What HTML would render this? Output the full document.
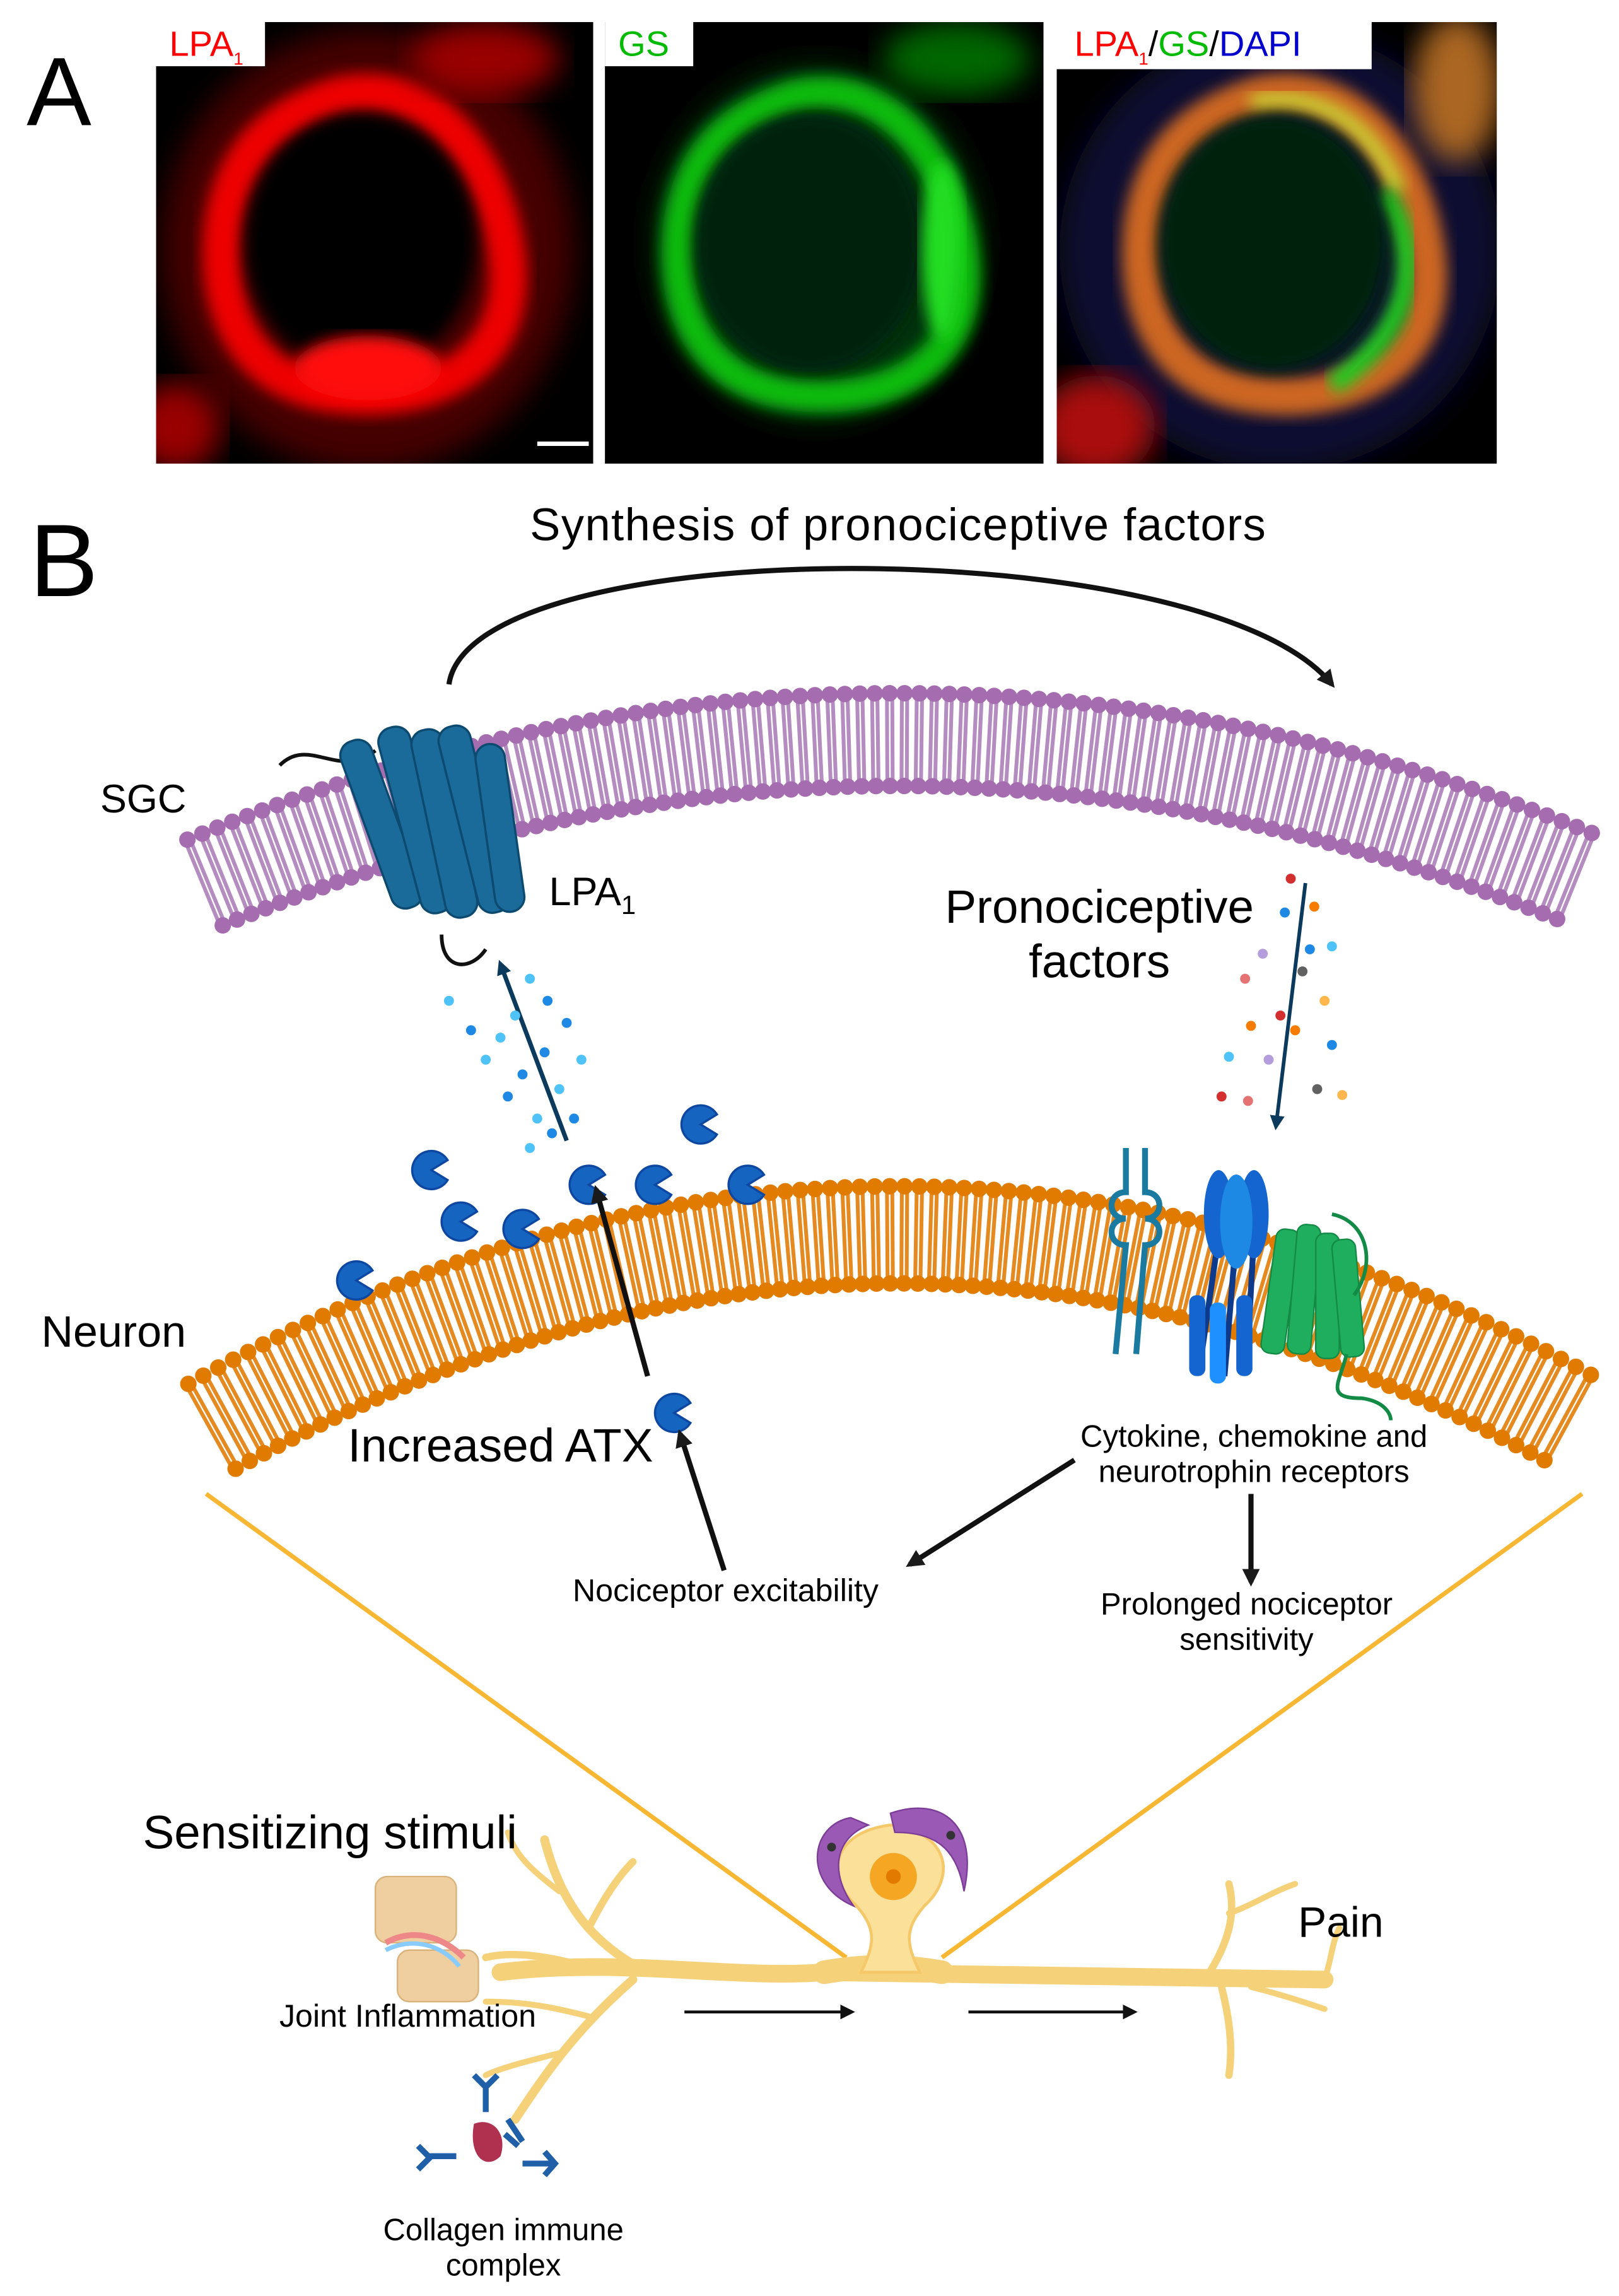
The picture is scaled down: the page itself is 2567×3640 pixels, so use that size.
<!DOCTYPE html>
<html><head><meta charset="utf-8">
<style>
html,body{margin:0;padding:0;background:#fff;}
svg{display:block;}
text{font-family:"Liberation Sans",Arial,sans-serif;}
</style></head>
<body>
<svg id="s" width="2567" height="3640" viewBox="0 0 1100 1560" xmlns="http://www.w3.org/2000/svg">
<defs>
<filter id="b4"><feGaussianBlur stdDeviation="5"/></filter>
<filter id="b8"><feGaussianBlur stdDeviation="10"/></filter>
<marker id="ah" markerWidth="10" markerHeight="10" refX="7" refY="5" orient="auto" markerUnits="userSpaceOnUse"><path d="M0,0 L10,5 L0,10 z" fill="#111"/></marker>
<marker id="ahb" markerWidth="12" markerHeight="12" refX="9" refY="6" orient="auto" markerUnits="userSpaceOnUse"><path d="M0,0 L12,6 L0,12 z" fill="#1a1a1a"/></marker>
<marker id="ahn" markerWidth="10" markerHeight="10" refX="7" refY="5" orient="auto" markerUnits="userSpaceOnUse"><path d="M0,0 L10,5 L0,10 z" fill="#0b3a5c"/></marker>
<clipPath id="c1"><rect x="106" y="15" width="297" height="300"/></clipPath>
<clipPath id="c2"><rect x="411" y="15" width="298" height="300"/></clipPath>
<clipPath id="c3"><rect x="718" y="15" width="299" height="300"/></clipPath>
</defs>
<rect width="1100" height="1560" fill="#fff"/>
<text x="18" y="85" font-size="66">A</text>
<!-- Panel 1 -->
<rect x="106" y="15" width="297" height="300" fill="#000"/>
<g clip-path="url(#c1)">
<ellipse cx="250" cy="170" rx="140" ry="150" fill="#400" filter="url(#b8)"/>
<path d="M230,65 C300,50 340,120 345,180 C350,250 290,275 230,268 C160,260 145,200 152,150 C160,100 190,78 230,65 Z" fill="none" stroke="#e00" stroke-width="26" filter="url(#b4)"/>
<ellipse cx="245" cy="165" rx="78" ry="88" fill="#000" filter="url(#b4)"/>
<ellipse cx="250" cy="250" rx="50" ry="22" fill="#f11" filter="url(#b4)"/>
<ellipse cx="330" cy="40" rx="50" ry="25" fill="#900" filter="url(#b8)"/>
<ellipse cx="120" cy="290" rx="30" ry="30" fill="#900" filter="url(#b8)"/>
</g>
<rect x="365" y="300" width="35" height="3" fill="#fff"/>
<rect x="106" y="15" width="74" height="30" fill="#fff"/>
<text x="115" y="38" font-size="24" fill="#f00">LPA<tspan font-size="12" dy="6">1</tspan></text>
<!-- Panel 2 -->
<rect x="411" y="15" width="298" height="300" fill="#000"/>
<g clip-path="url(#c2)">
<ellipse cx="555" cy="165" rx="110" ry="120" fill="#031" filter="url(#b8)"/>
<path d="M540,65 C610,50 650,120 655,180 C660,250 600,275 540,268 C470,260 455,200 462,150 C470,100 500,78 540,65 Z" fill="none" stroke="#1b1" stroke-width="22" filter="url(#b4)"/>
<ellipse cx="550" cy="165" rx="78" ry="88" fill="#021" filter="url(#b4)"/>
<ellipse cx="640" cy="170" rx="14" ry="60" fill="#2d2" filter="url(#b4)"/>
<ellipse cx="650" cy="40" rx="50" ry="25" fill="#060" filter="url(#b8)"/>
</g>
<rect x="411" y="15" width="60" height="30" fill="#fff"/>
<text x="420" y="38" font-size="24" fill="#0b0">GS</text>
<!-- Panel 3 -->
<rect x="718" y="15" width="299" height="300" fill="#000"/>
<g clip-path="url(#c3)">
<ellipse cx="870" cy="170" rx="150" ry="150" fill="#113" filter="url(#b8)"/>
<path d="M855,65 C925,50 965,120 970,180 C975,250 915,275 855,268 C785,260 770,200 777,150 C785,100 815,78 855,65 Z" fill="none" stroke="#c62" stroke-width="26" filter="url(#b4)"/>
<path d="M850,70 C900,60 935,90 950,130" fill="none" stroke="#cc3" stroke-width="12" filter="url(#b4)"/>
<path d="M940,130 C965,170 965,220 905,262" fill="none" stroke="#2c2" stroke-width="14" filter="url(#b4)"/>
<ellipse cx="865" cy="165" rx="78" ry="88" fill="#021" filter="url(#b4)"/>
<ellipse cx="745" cy="290" rx="40" ry="35" fill="#a11" filter="url(#b8)"/>
<ellipse cx="990" cy="60" rx="30" ry="50" fill="#a62" filter="url(#b8)"/>
</g>
<rect x="718" y="15" width="214" height="32" fill="#fff"/>
<text x="730" y="38" font-size="24" fill="#f00">LPA<tspan font-size="12" dy="6">1</tspan><tspan dy="-6" fill="#000">/</tspan><tspan fill="#0b0">GS</tspan><tspan fill="#000">/</tspan><tspan fill="#00c">DAPI</tspan></text>

<text x="20" y="405" font-size="70">B</text>
<text x="360" y="367" font-size="31" textLength="500">Synthesis of pronociceptive factors</text>
<path d="M305,465 C320,360 820,360 905,465" fill="none" stroke="#111" stroke-width="3.5" marker-end="url(#ahb)"/>

<g id="mem"></g>

<text x="68" y="552" font-size="27">SGC</text>
<text x="28" y="915" font-size="30">Neuron</text>

<!-- LPA1 receptor -->
<path d="M190,520 C210,500 230,530 255,510" fill="none" stroke="#111" stroke-width="2.5"/>
<path d="M300,635 C300,660 320,660 330,645" fill="none" stroke="#111" stroke-width="2.5"/>
<g fill="#1a6a9a" stroke="#0d4a70" stroke-width="1.5">
<rect x="250" y="500" width="22" height="120" rx="10" transform="rotate(-20 260 565)"/>
<rect x="272" y="492" width="22" height="130" rx="10" transform="rotate(-15 283 560)"/>
<rect x="292" y="495" width="22" height="130" rx="10" transform="rotate(-12 300 565)"/>
<rect x="312" y="492" width="22" height="130" rx="10" transform="rotate(-14 321 560)"/>
<rect x="330" y="505" width="20" height="115" rx="10" transform="rotate(-8 340 565)"/>
</g>
<text x="373" y="615" font-size="27">LPA<tspan font-size="18" dy="6">1</tspan></text>

<text x="747" y="627" font-size="32" text-anchor="middle">Pronociceptive</text>
<text x="747" y="664" font-size="32" text-anchor="middle">factors</text>

<!-- arrows -->
<line x1="385" y1="775" x2="340" y2="655" stroke="#0b3a5c" stroke-width="3" marker-end="url(#ahn)"/>
<line x1="887" y1="600" x2="867" y2="765" stroke="#0b3a5c" stroke-width="2.5" marker-end="url(#ahn)"/>
<g id="dots"></g>

<g id="pac" fill="#1565c0"></g>

<!-- neuron receptors -->
<g stroke="#1a7aa0" fill="none" stroke-width="4">
<path d="M765,780 L765,810 C752,810 752,828 765,828 C752,828 752,846 765,846 L758,920"/>
<path d="M778,780 L778,810 C791,810 791,828 778,828 C791,828 791,846 778,846 L772,920"/>
</g>
<g>
<line x1="828" y1="840" x2="815" y2="930" stroke="#0d3a8a" stroke-width="4"/>
<line x1="840" y1="840" x2="832" y2="935" stroke="#0d3a8a" stroke-width="4"/>
<line x1="852" y1="840" x2="847" y2="930" stroke="#0d3a8a" stroke-width="4"/>
<ellipse cx="828" cy="825" rx="10" ry="30" fill="#1565d0"/>
<ellipse cx="852" cy="825" rx="10" ry="30" fill="#1565d0"/>
<ellipse cx="840" cy="830" rx="11" ry="32" fill="#1e88e5"/>
<rect x="808" y="880" width="11" height="55" rx="5" fill="#1565d0"/>
<rect x="822" y="885" width="11" height="55" rx="5" fill="#1e90ff"/>
<rect x="840" y="880" width="11" height="55" rx="5" fill="#1565d0"/>
</g>
<g fill="#1fae5e" stroke="#138a45" stroke-width="1">
<rect x="862" y="835" width="16" height="85" rx="6" transform="rotate(8 870 877)"/>
<rect x="878" y="832" width="16" height="88" rx="6" transform="rotate(5 886 876)"/>
<rect x="894" y="838" width="16" height="85" rx="6"/>
<rect x="908" y="842" width="16" height="80" rx="6" transform="rotate(-5 916 882)"/>
</g>
<path d="M905,825 C930,830 935,860 920,880 M915,920 C910,940 900,950 925,950 C940,952 945,960 945,965" fill="none" stroke="#138a45" stroke-width="2.5"/>

<text x="340" y="993" font-size="32" text-anchor="middle">Increased ATX</text>
<text x="852" y="983" font-size="21" text-anchor="middle">Cytokine, chemokine and</text>
<text x="852" y="1007" font-size="21" text-anchor="middle">neurotrophin receptors</text>
<text x="493" y="1088" font-size="21.5" text-anchor="middle">Nociceptor excitability</text>
<text x="847" y="1097" font-size="21" text-anchor="middle">Prolonged nociceptor</text>
<text x="847" y="1121" font-size="21" text-anchor="middle">sensitivity</text>

<line x1="440" y1="935" x2="405" y2="808" stroke="#111" stroke-width="3.5" marker-end="url(#ahb)"/>
<line x1="492" y1="1067" x2="462" y2="974" stroke="#111" stroke-width="3.5" marker-end="url(#ahb)"/>
<line x1="730" y1="992" x2="618" y2="1063" stroke="#111" stroke-width="3.5" marker-end="url(#ahb)"/>
<line x1="850" y1="1015" x2="850" y2="1075" stroke="#111" stroke-width="3.5" marker-end="url(#ahb)"/>

<line x1="140" y1="1015" x2="575" y2="1330" stroke="#f7b733" stroke-width="3"/>
<line x1="1075" y1="1015" x2="640" y2="1330" stroke="#f7b733" stroke-width="3"/>

<!-- neuron drawing -->
<g fill="none" stroke="#f5d27a" stroke-linecap="round">
<path d="M340,1340 C420,1330 500,1345 560,1340 L900,1345" stroke-width="12"/>
<path d="M560,1340 C590,1335 610,1335 640,1340" stroke-width="16"/>
<path d="M440,1340 C400,1320 380,1290 370,1250" stroke-width="6"/>
<path d="M400,1310 C410,1290 420,1275 430,1265" stroke-width="5"/>
<path d="M380,1285 C360,1270 350,1260 345,1245" stroke-width="4"/>
<path d="M430,1345 C390,1380 370,1410 350,1440" stroke-width="6"/>
<path d="M380,1395 C360,1400 340,1405 330,1410" stroke-width="4"/>
<path d="M400,1370 C380,1365 360,1360 330,1360" stroke-width="4"/>
<path d="M410,1340 C380,1330 350,1325 330,1330" stroke-width="5"/>
<path d="M820,1343 C835,1320 840,1300 835,1280" stroke-width="5"/>
<path d="M835,1300 C850,1295 865,1285 880,1280" stroke-width="4"/>
<path d="M830,1350 C835,1370 838,1390 835,1410" stroke-width="5"/>
<path d="M850,1350 C870,1355 885,1360 900,1365" stroke-width="4"/>
<path d="M900,1345 C905,1330 905,1320 910,1310" stroke-width="4"/>
</g>
<path d="M585,1340 C595,1320 595,1310 582,1295 C560,1275 565,1245 605,1240 C645,1245 650,1275 628,1295 C615,1310 615,1320 625,1340 Z" fill="#fbe09a" stroke="#f5c96a" stroke-width="2"/>
<circle cx="607" cy="1275" r="16" fill="#f5a623"/>
<circle cx="607" cy="1275" r="5" fill="#e27a00"/>
<path d="M578,1235 C550,1240 545,1280 580,1295 C565,1275 565,1250 590,1240 Z" fill="#9b59b6" stroke="#7d3c98"/>
<path d="M605,1232 C640,1220 665,1240 655,1285 C650,1255 635,1245 608,1245 Z" fill="#9b59b6" stroke="#7d3c98"/>
<circle cx="565" cy="1255" r="3" fill="#333"/><circle cx="646" cy="1247" r="3" fill="#333"/>
<line x1="465" y1="1367" x2="578" y2="1367" stroke="#111" stroke-width="2" marker-end="url(#ah)"/>
<line x1="658" y1="1367" x2="770" y2="1367" stroke="#111" stroke-width="2" marker-end="url(#ah)"/>

<text x="97" y="1256" font-size="32">Sensitizing stimuli</text>
<text x="882" y="1316" font-size="29">Pain</text>
<text x="277" y="1377" font-size="21.5" text-anchor="middle">Joint Inflammation</text>
<text x="342" y="1522" font-size="21" text-anchor="middle">Collagen immune</text>
<text x="342" y="1546" font-size="21" text-anchor="middle">complex</text>
<rect x="255" y="1275" width="55" height="45" rx="8" fill="#efcfa0" stroke="#d9b27a"/>
<rect x="270" y="1325" width="55" height="35" rx="8" fill="#efcfa0" stroke="#d9b27a"/>
<path d="M262,1320 C280,1310 300,1315 315,1330" fill="none" stroke="#e88" stroke-width="4"/>
<path d="M262,1325 C280,1316 300,1321 312,1336" fill="none" stroke="#8cf" stroke-width="3"/>
<path d="M322,1443 C335,1438 345,1450 340,1465 C330,1475 318,1465 322,1443 Z" fill="#b03050"/>
<g stroke="#1f5fa8" stroke-width="4" fill="none">
<path d="M330,1415 L330,1435 M322,1410 L330,1418 L338,1410"/>
<path d="M290,1465 L310,1465 M284,1458 L292,1466 L284,1474"/>
<path d="M355,1470 L375,1470 M370,1462 L377,1470 L370,1478"/>
<path d="M345,1440 L355,1455 M343,1450 L352,1458"/>
</g>
</svg>
<script>
(function(){
var NS="http://www.w3.org/2000/svg";
var mem=document.getElementById("mem");
function el(n,a,p){var e=document.createElementNS(NS,n);for(var k in a)e.setAttribute(k,a[k]);(p||mem).appendChild(e);return e;}
function layer(x0,x1,c,k,th,col,tail){
 for(var x=x0;x<=x1;x+=10.2){
  var y=c+k*(x-610)*(x-610);
  var d=2*k*(x-610); var n=Math.sqrt(1+d*d); var nx=-d/n, ny=1/n;
  var tx=ny, ty=-nx;
  var ax=x+nx*6, ay=y+ny*6, bx=x+nx*(th-6), by=y+ny*(th-6);
  el("line",{x1:ax-tx*1.8,y1:ay-ty*1.8,x2:bx-tx*1.8,y2:by-ty*1.8,stroke:tail,"stroke-width":2.6});
  el("line",{x1:ax+tx*1.8,y1:ay+ty*1.8,x2:bx+tx*1.8,y2:by+ty*1.8,stroke:tail,"stroke-width":2.6});
  el("circle",{cx:ax,cy:ay,r:5.6,fill:col});
  el("circle",{cx:bx,cy:by,r:5.6,fill:col});
 }
}
layer(125,1088,465,0.000425,75,"#a56db0","#b48cc0");
layer(125,1088,800,0.000574,78,"#e07b00","#e58a20");
var dots=document.getElementById("dots");
var blue=[[360,665],[372,680],[350,690],[385,695],[340,705],[370,715],[395,720],[355,730],[380,740],[345,745],[365,760],[390,760],[305,680],[320,700],[330,720],[375,770],[360,780]];
blue.forEach(function(p,i){el("circle",{cx:p[0],cy:p[1],r:3.4,fill:i%2?"#1e88e5":"#4fc3f7"},dots);});
var cols=["#d32f2f","#f57c00","#1e88e5","#4fc3f7","#b39ddb","#616161","#e57373","#ffb74d"];
var rf=[[877,597],[893,616],[873,620],[905,643],[858,648],[885,660],[846,665],[900,680],[870,690],[850,697],[905,710],[835,718],[862,720],[895,740],[848,748],[912,744],[830,745],[880,700],[890,645]];
rf.forEach(function(p,i){el("circle",{cx:p[0],cy:p[1],r:3.4,fill:cols[i%cols.length]},dots);});
var pac=document.getElementById("pac");
[[293,795],[313,830],[242,870],[355,835],[400,805],[445,805],[508,805],[476,764],[458,960]].forEach(function(p){
 var r=13,x=p[0],y=p[1];
 el("path",{d:"M"+x+","+y+" L"+(x+r*Math.cos(0.55))+","+(y-r*Math.sin(0.55))+" A"+r+","+r+" 0 1 0 "+(x+r*Math.cos(0.55))+","+(y+r*Math.sin(0.55))+" Z",fill:"#1565c0",stroke:"#0d47a1","stroke-width":1.5},pac);
});
})();
</script>
</body></html>
